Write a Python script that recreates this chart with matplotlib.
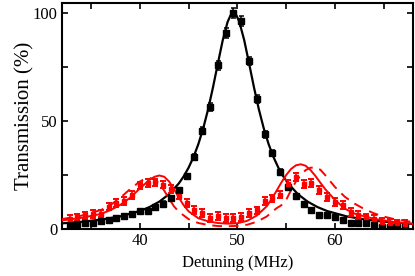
import matplotlib
matplotlib.use('Agg')
from matplotlib import pyplot as plt

# measured points (0.8 MHz steps)
det = [32.8, 33.6, 34.4, 35.2, 36.0, 36.8, 37.6, 38.4, 39.2, 40.0, 40.8,
       41.6, 42.4, 43.2, 44.0, 44.8, 45.6, 46.4, 47.2, 48.0, 48.8, 49.6,
       50.4, 51.2, 52.0, 52.8, 53.6, 54.4, 55.2, 56.0, 56.8, 57.6, 58.4,
       59.2, 60.0, 60.8, 61.6, 62.4, 63.2, 64.0, 64.8, 65.6, 66.4, 67.2]
black_pts = [2.0, 2.3, 2.7, 3.0, 3.8, 4.4, 4.9, 5.9, 6.9, 8.2, 8.4,
             10.2, 11.8, 14.5, 18.0, 24.5, 33.5, 45.5, 56.5, 75.8, 90.7, 100.0,
             96.4, 77.8, 60.2, 43.8, 35.0, 26.5, 19.5, 15.3, 11.6, 8.8, 6.3,
             6.5, 5.4, 4.2, 3.0, 2.6, 2.9, 2.1, 0.8, 1.0, 0.8, 0.8]
black_err = [0.8, 0.8, 0.8, 0.8, 0.8, 0.8, 0.8, 0.8, 0.9, 0.9, 0.9,
             1.0, 1.0, 1.0, 1.2, 1.2, 1.4, 1.6, 1.8, 2.0, 2.2, 2.5,
             2.2, 2.0, 1.8, 1.6, 1.4, 1.2, 1.2, 1.0, 1.0, 1.0, 0.9,
             0.9, 0.9, 0.8, 0.8, 0.8, 0.8, 0.8, 0.8, 0.8, 0.8, 0.8]
red_pts = [4.8, 5.4, 6.3, 7.0, 7.2, 10.4, 12.0, 13.0, 15.8, 20.2, 21.5,
           21.6, 20.6, 18.5, 15.5, 12.2, 9.0, 7.5, 5.0, 6.0, 5.3, 5.2,
           5.5, 7.4, 8.6, 13.0, 14.2, 16.0, 21.0, 24.2, 21.0, 21.2, 18.0,
           15.0, 12.6, 11.0, 8.0, 6.5, 5.4, 4.5, 3.5, 3.0, 2.6, 2.4]
red_err = [1.8] * len(det)

# fitted curves
fit_x = [32, 34, 36, 38, 40, 41, 42, 43, 44, 44.5, 45, 45.5, 46, 46.5, 47,
         47.5, 48, 48.5, 49, 49.3, 49.6, 49.9, 50.2, 50.7, 51.2, 51.7, 52.2,
         52.7, 53.2, 53.7, 54.2, 54.7, 55.2, 56.2, 57.2, 58.2, 59.2, 61.2,
         63.2, 65.2, 67.2, 68]
fit_black = [2.64, 3.34, 4.35, 5.88, 8.36, 10.21, 12.71, 16.18, 21.15, 24.43,
             28.44, 33.34, 39.35, 46.67, 55.44, 65.61, 76.66, 87.42, 95.9,
             98.9, 100.0, 98.9, 95.9, 87.42, 76.66, 65.61, 55.44, 46.67,
             39.35, 33.34, 28.44, 24.43, 21.15, 16.18, 12.71, 10.21, 8.36,
             5.88, 4.35, 3.34, 2.64, 2.42]

red_x = [32, 34, 36, 37, 38, 39, 40, 41, 41.5, 42, 42.5, 43, 43.5, 44, 44.5,
         45, 46, 47, 48, 49, 50, 51, 52, 53, 53.5, 54, 54.5, 55, 55.5, 56,
         56.5, 57, 57.5, 58, 58.5, 59, 60, 61, 62, 63, 64, 66, 68]
red_fit = [4.0, 5.2, 7.0, 8.8, 11.2, 14.5, 18.8, 22.8, 24.2, 24.8, 24.2,
           22.0, 18.5, 14.5, 11.0, 8.2, 5.0, 3.6, 2.8, 2.5, 2.7, 3.8, 6.3,
           10.5, 13.8, 17.6, 21.5, 25.0, 27.8, 29.5, 30.0, 29.3, 27.3, 24.6,
           21.5, 18.5, 13.5, 9.5, 7.2, 5.9, 4.8, 3.3, 2.4]

dash_x = [32, 34, 36, 37, 38, 39, 40, 40.5, 41, 41.5, 42, 42.5, 43, 43.5,
          44, 45, 46, 47, 48, 49, 50, 51, 52, 53, 54, 54.5, 55, 55.5, 56,
          56.5, 57, 57.5, 58, 58.5, 59, 60, 61, 62, 63, 64, 65, 66, 68]
dash_fit = [4.6, 6.2, 8.8, 11.2, 14.5, 18.5, 22.0, 23.2, 23.6, 23.0, 21.0,
            17.8, 14.0, 10.5, 8.0, 4.6, 2.8, 1.9, 1.4, 1.3, 1.5, 2.0, 3.4,
            5.8, 9.6, 11.0, 13.5, 18.0, 22.0, 25.0, 27.3, 28.4, 28.5, 27.5,
            25.0, 19.5, 15.0, 11.8, 9.3, 7.3, 5.8, 4.7, 3.2]

plt.rcParams['font.family'] = ['Liberation Serif', 'DejaVu Serif']

fig = plt.figure(figsize=(4.15, 2.76), dpi=100)
ax = fig.add_axes([0.149, 0.170, 0.846, 0.819])

ax.plot(fit_x, fit_black, color='black', lw=1.6, zorder=3)
ax.errorbar(det, black_pts, yerr=black_err, fmt='s', color='black', ms=4,
            elinewidth=1.1, capsize=1.8, capthick=1.1, zorder=4)

ax.plot(red_x, red_fit, color='red', lw=1.4, zorder=3)
ax.plot(dash_x, dash_fit, color='red', lw=1.4, ls=(0, (5, 3.5)), zorder=3)
ax.errorbar(det, red_pts, yerr=red_err, fmt='s', color='red', ms=2.8,
            elinewidth=1.2, capsize=2.0, capthick=1.4, zorder=4)

ax.set_xlim(32, 68)
ax.set_ylim(0, 104.6)
ax.set_xticks([40, 50, 60])
ax.set_xticks([35, 45, 55, 65], minor=True)
ax.set_yticks([0, 50, 100])
ax.set_yticks([25, 75], minor=True)
ax.tick_params(which='both', direction='in', top=True, right=True,
               labelsize=12, width=1.2, length=4, pad=3)
for s in ax.spines.values():
    s.set_linewidth(1.5)

ax.set_xlabel('Detuning (MHz)', fontsize=12, labelpad=4)
ax.set_ylabel('Transmission (%)', fontsize=15, labelpad=-1)

fig.savefig('out.png', dpi=100)
